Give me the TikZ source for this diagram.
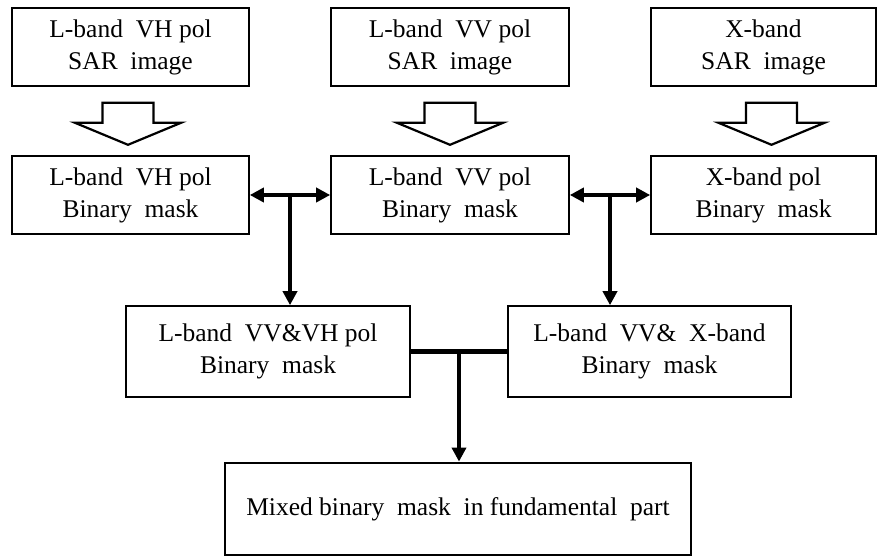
\documentclass[tikz,border=0pt]{standalone}
\usepackage{fontspec}
\setmainfont{Liberation Serif}
\usetikzlibrary{arrows.meta,calc}
\tikzset{
  box/.style={draw,line width=1.6bp,minimum height=78bp,align=center,inner sep=0pt,
    font=\fontsize{25.5bp}{32bp}\selectfont},
  bigbox/.style={box,minimum height=91bp},
  finalbox/.style={box,line width=2.8bp,minimum height=92bp},
  conn/.style={line width=4.4bp},
  tip/.style={-{Triangle[length=14bp,width=14bp]}},
  both/.style={{Triangle[length=14bp,width=14bp]}-{Triangle[length=14bp,width=14bp]}},
  hollow/.style={draw,line width=2.2bp,fill=white,line join=miter}
}
\begin{document}
\begin{tikzpicture}[x=1bp,y=-1bp]
\useasboundingbox (0,0) rectangle (878,556);
\node[box,minimum width=237bp] (A) at (130.5,47) {L-band~ VH pol\\SAR~ image};
\node[box,minimum width=238bp] (B) at (450,47) {L-band~ VV pol\\SAR~ image};
\node[box,minimum width=225bp] (C) at (763.5,47) {X-band\\SAR~ image};
\node[box,minimum width=237bp] (D) at (130.5,195) {L-band~ VH pol\\Binary~ mask};
\node[box,minimum width=238bp] (E) at (450,195) {L-band~ VV pol\\Binary~ mask};
\node[box,minimum width=225bp] (F) at (763.5,195) {X-band pol\\Binary~ mask};
\node[bigbox,minimum width=284bp] (G) at (268,351.5) {L-band~ VV\&VH pol\\Binary~ mask};
\node[bigbox,minimum width=283bp] (H) at (649.5,351.5) {L-band~ VV\&~ X-band\\Binary~ mask};
\node[finalbox,minimum width=466bp] (I) at (458,509) {Mixed binary~ mask~ in fundamental~ part};
% hollow block arrows
\foreach \n/\dx in {A/-2.5,B/0,C/8}{
  \coordinate (t) at ($(\n.south)+(\dx,0)$);
  \draw[hollow] ($(t)+(-25.5,16)$) -- ($(t)+(25.5,16)$) -- ($(t)+(25.5,36)$) -- ($(t)+(53,36)$)
    -- ($(t)+(0,58)$) -- ($(t)+(-53,36)$) -- ($(t)+(-25.5,36)$) -- cycle;
}
% junctions
\coordinate (j1) at ($(D.east)!0.5!(E.west)$);
\coordinate (j2) at ($(E.east)!0.5!(F.west)$);
\coordinate (j3) at ($(G.east)!0.5!(H.west)$);
\draw[conn,both] (D.east) -- (E.west);
\draw[conn,both] (E.east) -- (F.west);
\draw[conn,tip] (j1) -- (j1 |- G.north);
\draw[conn,tip] (j2) -- (j2 |- H.north);
\draw[conn] (G.east) -- (H.west);
\draw[conn,tip] (j3) -- (j3 |- I.north);
\end{tikzpicture}
\end{document}
